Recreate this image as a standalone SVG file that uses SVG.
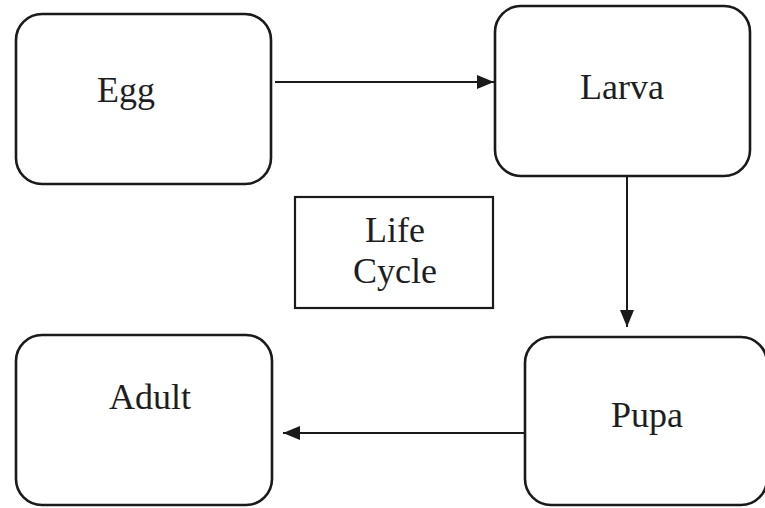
<svg xmlns="http://www.w3.org/2000/svg" width="765" height="508" viewBox="0 0 765 508">
  <style>
    .stage { fill: #ffffff; stroke: #1a1a1a; stroke-width: 2.6; }
    .title { fill: #ffffff; stroke: #1a1a1a; stroke-width: 2.2; }
    .label { font-family: "Liberation Serif", "Times New Roman", serif; font-size: 36px; fill: #1e1e1e; text-anchor: middle; }
    .link { stroke: #1a1a1a; stroke-width: 2; fill: none; marker-end: url(#head); }
  </style>
  <defs>
    <marker id="head" viewBox="0 0 17 14" refX="17" refY="7" markerWidth="17" markerHeight="14" markerUnits="userSpaceOnUse" orient="auto">
      <path d="M0,0 L17,7 L0,14 z" fill="#1a1a1a"/>
    </marker>
  </defs>
  <rect width="765" height="508" fill="#ffffff"/>

  <g id="egg">
    <rect class="stage" x="16" y="14" width="255" height="170" rx="26" ry="26"/>
    <text class="label" x="126" y="102">Egg</text>
  </g>

  <g id="larva">
    <rect class="stage" x="495" y="6" width="255" height="170" rx="26" ry="26"/>
    <text class="label" x="622" y="99">Larva</text>
  </g>

  <g id="life-cycle">
    <rect class="title" x="295" y="197" width="198" height="111"/>
    <text class="label" x="395" y="242">Life</text>
    <text class="label" x="395" y="283">Cycle</text>
  </g>

  <g id="pupa">
    <rect class="stage" x="525" y="337" width="242" height="168" rx="26" ry="26"/>
    <text class="label" x="647" y="427">Pupa</text>
  </g>

  <g id="adult">
    <rect class="stage" x="16" y="335" width="256" height="170" rx="26" ry="26"/>
    <text class="label" x="150" y="409">Adult</text>
  </g>

  <g id="connectors">
    <line class="link" x1="275" y1="82" x2="494" y2="82"/>
    <line class="link" x1="627" y1="176" x2="627" y2="327"/>
    <line class="link" x1="525" y1="433" x2="283" y2="433"/>
  </g>
</svg>
